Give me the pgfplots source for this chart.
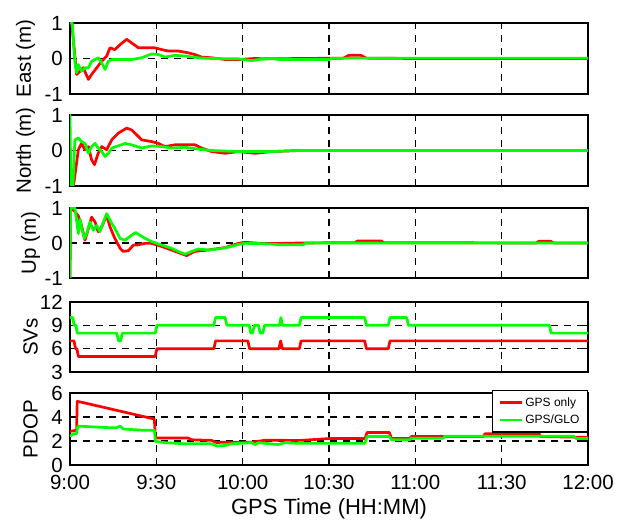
\documentclass[border=0pt]{standalone}
\usepackage{pgfplots}
\pgfplotsset{compat=1.18}
\usepackage{fontspec}
\setmainfont{Liberation Sans}
\definecolor{gpsred}{rgb}{1,0,0}
\definecolor{glogreen}{rgb}{0,1,0}

\pgfplotsset{
  panel/.style={
    width=518pt, scale only axis,
    xmin=0, xmax=180, xtick={0,30,...,180}, xticklabels={},
    axis line style={line width=2pt, black},
    tick align=inside, major tick length=4pt,
    tick style={line width=1.4pt, black},
    xmajorgrids, ymajorgrids,
    major grid style={line width=1.5pt, black, dash pattern=on 7pt off 6pt},
    every tick label/.append style={font=\fontsize{20.5}{24}\selectfont},
    yticklabel style={inner sep=0pt, xshift=-7pt},
    ylabel style={font=\fontsize{20.5}{24}\selectfont, anchor=center},
    /pgf/number format/assume math mode=true,
  },
  gps/.style={gpsred, line width=2.7pt, line join=round, line cap=round},
  glo/.style={glogreen, line width=2.7pt, line join=round, line cap=round},
}

\begin{document}
\begin{tikzpicture}[x=1pt,y=1pt]
\path (0,0) rectangle (618,520);

% East error
\begin{axis}[panel, at={(70pt,426pt)}, anchor=south west, height=71pt,
  ymin=-1, ymax=1, ytick={-1,0,1}, yticklabels={-1,0,1},
  ylabel={East (m)}, ylabel style={at={(axis description cs:-0.086,0.5)}}]
\addplot[gps] coordinates {(0,1)(0.6,1)(2.3,-0.45)(3.5,-0.36)(4.6,-0.26)(6.4,-0.59)(7.5,-0.45)(9.3,-0.26)(11,-0.08)(12.75,0.07)(13.9,0.30)(15.6,0.25)(17.4,0.39)(19.7,0.54)(21.4,0.44)(23.8,0.30)(27.2,0.30)(29.5,0.30)(31.9,0.25)(34.2,0.21)(37.6,0.21)(41.1,0.16)(43.4,0.11)(45.7,0.04)(49.2,0.02)(54,-0.03)(58.5,-0.03)(64,0)(70,-0.01)(80,0)(95,0.01)(97,0.09)(101,0.09)(103,0.01)(120,0)(180,0)};
\addplot[glo] coordinates {(0,1)(0.8,1)(1.7,-0.1)(2.3,-0.4)(2.9,-0.17)(4.0,-0.36)(5.2,-0.26)(6.4,-0.26)(7.5,-0.08)(8.7,-0.03)(9.8,0.02)(11,-0.12)(12.2,-0.31)(13.3,-0.08)(14.5,-0.03)(18,-0.03)(21.4,-0.03)(24.9,0.02)(28.4,0.13)(30.7,0.11)(33,0.04)(36.5,0.09)(40,0.07)(44.6,0.02)(49.2,0)(58.5,-0.01)(63.1,-0.06)(65.5,-0.03)(70,0)(73,-0.03)(90,-0.03)(91,0.01)(180,0.01)};
\end{axis}

% North error
\begin{axis}[panel, at={(70pt,334pt)}, anchor=south west, height=71pt,
  ymin=-1, ymax=1, ytick={-1,0,1}, yticklabels={-1,0,1},
  ylabel={North (m)}, ylabel style={at={(axis description cs:-0.086,0.5)}}]
\addplot[gps] coordinates {(0,-1)(1.2,-1)(2.9,0.02)(4,0.2)(5.2,0.02)(6.4,0.11)(7.5,-0.26)(8.5,-0.4)(9.8,-0.08)(11,0.11)(12.75,0.02)(14.5,0.3)(16.8,0.49)(19.7,0.63)(21.4,0.58)(23.2,0.44)(24.9,0.30)(28.4,0.25)(30.7,0.2)(33,0.11)(36.5,0.16)(40,0.16)(43.4,0.16)(45.7,0.07)(49.2,-0.03)(53.9,-0.08)(58.5,-0.03)(64.3,-0.08)(70,-0.03)(80,0)(180,0)};
\addplot[glo] coordinates {(0,1)(0.3,-1)(1.0,-1)(1.7,0.3)(2.9,0.35)(4.0,0.25)(5.2,0.2)(6.4,-0.08)(7.5,0.11)(8.7,0.2)(9.8,0.07)(11,-0.03)(12.2,-0.17)(13.3,-0.08)(14.5,0.07)(16.8,0.13)(19.1,0.2)(21.4,0.16)(24.9,0.07)(28.4,0.13)(31.9,0.11)(35.3,0.07)(40,0.09)(44.6,0.04)(49.2,0)(58.5,-0.03)(70,-0.03)(80,0)(180,0)};
\end{axis}

% Up error
\begin{axis}[panel, at={(70pt,242pt)}, anchor=south west, height=70pt,
  ymin=-1, ymax=1, ytick={-1,0,1}, yticklabels={-1,0,1},
  ylabel={Up (m)}, ylabel style={at={(axis description cs:-0.076,0.5)}}]
\addplot[gps] coordinates {(0,-1)(0.2,1)(1.7,0.9)(2.9,0.77)(4.0,0.5)(5.2,0.08)(6.4,0.41)(7.5,0.74)(8.7,0.6)(9.8,0.32)(11,0.46)(12.75,0.79)(13.9,0.46)(15.6,0.13)(17.4,-0.15)(18.5,-0.24)(20.3,-0.22)(22,-0.06)(23.2,-0.06)(26.1,-0.01)(28.4,-0.01)(31.9,-0.1)(35.3,-0.2)(38.2,-0.29)(40.5,-0.36)(43.4,-0.24)(48.1,-0.2)(53.9,-0.13)(58.5,-0.01)(60.8,0.02)(67.8,-0.02)(80,0)(99,0.01)(100,0.06)(108,0.06)(109,0.01)(162,0)(163,0.05)(167,0.05)(168,0)(180,0)};
\addplot[glo] coordinates {(0,-1)(0.2,1)(1.7,1)(2.9,0.27)(3.5,0.68)(4.0,0.46)(5.0,0.13)(5.8,0.27)(6.95,0.6)(8.1,0.36)(9.3,0.5)(10.4,0.32)(11.6,0.6)(12.75,0.84)(13.9,0.65)(15.6,0.41)(17.4,0.13)(19.1,0.08)(21.4,0.22)(22.8,0.3)(24.3,0.22)(26.1,0.13)(28.4,0.04)(31.9,-0.06)(35.3,-0.15)(37.6,-0.24)(40,-0.32)(42.3,-0.24)(44.6,-0.17)(48.1,-0.2)(51.5,-0.17)(55,-0.12)(58.5,-0.04)(60.8,-0.01)(67.8,-0.02)(73,-0.05)(81,-0.05)(82,0)(180,0)};
\end{axis}

% Satellites in view
\begin{axis}[panel, at={(70pt,148pt)}, anchor=south west, height=70pt,
  ymin=3, ymax=12, ytick={3,6,9,12}, yticklabels={3,6,9,12},
  ylabel={SVs}, ylabel style={at={(axis description cs:-0.076,0.5)}}]
\addplot[gps] coordinates {(0,7)(1.4,7)(1.9,6)(2.4,6)(2.9,5)(29.6,5)(30.2,6)(50,6)(50.6,7)(61.8,7)(62.4,6)(72.6,6)(73.2,7)(73.8,6)(79.7,6)(80.3,7)(102.4,7)(103,6)(110.6,6)(111.2,7)(180,7)};
\addplot[glo] coordinates {(0,10)(1,10)(1.4,9)(2.1,9)(2.5,8)(16.2,8)(16.9,7)(17.6,7)(18.2,8)(29.6,8)(30.2,9)(50,9)(50.6,10)(53.9,10)(54.5,9)(62.3,9)(62.8,8)(63.4,8)(64.1,9)(65.5,9)(66.1,8)(67,8)(67.6,9)(72.8,9)(73.3,10)(73.8,9)(79.7,9)(80.3,10)(102.4,10)(103,9)(110.6,9)(111.2,10)(117,10)(117.6,9)(166.6,9)(167.2,8)(180,8)};
\end{axis}

% Dilution of precision
\begin{axis}[panel, at={(70pt,55pt)}, anchor=south west, height=72pt,
  ymin=0, ymax=6, ytick={0,2,4,6}, yticklabels={0,2,4,6},
  ylabel={PDOP}, ylabel style={at={(axis description cs:-0.076,0.5)}},
  xticklabels={9:00,9:30,10:00,10:30,11:00,11:30,12:00},
  xticklabel style={anchor=base, inner sep=0pt, yshift=-25pt},
  xlabel={GPS Time (HH:MM)},
  xlabel style={font=\fontsize{22}{26}\selectfont, at={(axis description cs:0.5,0)}, anchor=base, yshift=-50pt},
  legend style={at={(rel axis cs:1,1)}, anchor=north east, yshift=3pt,
    draw=black, line width=1.3pt, fill=white,
    font=\fontsize{12}{13}\selectfont, row sep=3pt,
    inner xsep=6pt, inner ysep=5pt},
  legend cell align=left,
  legend image code/.code={\draw[#1, line width=2.6pt, line cap=butt] (0pt,0pt) -- (22pt,0pt);}]
\addplot[gps] coordinates {(0,2.8)(2.3,2.9)(2.5,5.3)(4.6,5.2)(29.3,3.83)(29.7,2.25)(41,2.25)(42.3,2.1)(49.2,2.05)(51,1.86)(52.7,1.9)(63,1.9)(67.8,2.06)(80,2.05)(90,2.2)(102.5,2.2)(103.2,2.7)(111,2.7)(111.7,2.2)(118,2.2)(118.6,2.37)(143.6,2.37)(144.2,2.6)(163,2.6)(163.6,2.37)(180,2.3)};
\addlegendentry{GPS only}
\addplot[glo] coordinates {(0,2.4)(1.2,2.6)(2.3,2.6)(2.7,3.24)(14.5,3.1)(16,3.1)(17.4,3.24)(18.5,3.0)(24.9,2.9)(29.3,2.9)(29.7,1.97)(33,1.86)(40,1.77)(49.2,1.77)(51,1.58)(53.9,1.63)(56.2,1.77)(63.1,1.86)(64.3,1.7)(65.5,1.86)(72.4,1.7)(74.7,1.86)(80,1.8)(102.5,1.8)(103.2,2.37)(111,2.37)(111.7,2.1)(118,2.1)(118.6,2.23)(129.7,2.23)(130.3,2.4)(175,2.4)(176,2.2)(180,2.2)};
\addlegendentry{GPS/GLO}
\end{axis}
\end{tikzpicture}
\end{document}
